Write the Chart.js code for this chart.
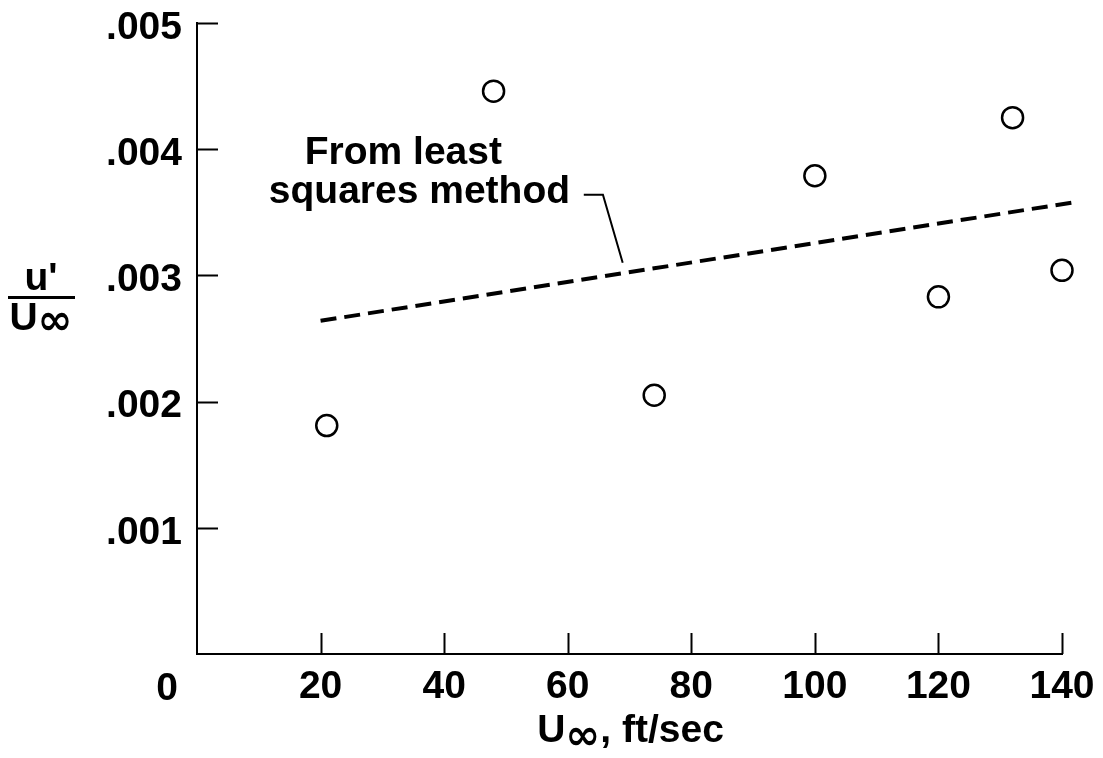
<!DOCTYPE html>
<html>
<head>
<meta charset="utf-8">
<title>Turbulence intensity vs free-stream velocity</title>
<script src="https://cdn.jsdelivr.net/npm/chart.js@4.4.1/dist/chart.umd.min.js"></script>
<style>
  html, body { margin: 0; padding: 0; background: #ffffff; }
  #wrap { width: 1103px; height: 758px; }
  canvas { display: block; }
</style>
</head>
<body>
<div id="wrap"><canvas id="chart" width="1103" height="758"></canvas></div>
<script>
// Measured free-stream velocity (ft/sec) and turbulence intensity u'/U∞
const velocity = [21, 48, 74, 100, 120, 132, 140];
const intensity = [0.00181, 0.00446, 0.00205, 0.00379, 0.00283, 0.00425, 0.00304];

// End points of the least squares line
const fitVelocity = [20, 142];
const fitIntensity = [0.00264, 0.00358];

// Tick values
const xTicks = [0, 20, 40, 60, 80, 100, 120, 140];
const yTicks = [0, 0.001, 0.002, 0.003, 0.004, 0.005];
const yTickLabels = ['', '.001', '.002', '.003', '.004', '.005'];

// Callout text and its leader (in data units)
const calloutLines = ['From least', 'squares method'];
const leaderX = [62.6, 65.7, 68.9];
const leaderY = [0.00364, 0.00364, 0.00310];

const FONT = '"Liberation Sans", Arial, Helvetica, sans-serif';
const SIZE = 39;
const TICK_LEN = 21;

const pointData = velocity.map((v, i) => ({ x: v, y: intensity[i] }));
const fitData = fitVelocity.map((v, i) => ({ x: v, y: fitIntensity[i] }));

const figureText = {
  id: 'figureText',
  afterDraw(chart) {
    const { ctx, chartArea, scales: { x, y } } = chart;
    ctx.save();
    ctx.strokeStyle = '#000';
    ctx.fillStyle = '#000';
    ctx.lineWidth = 2;
    ctx.lineCap = 'butt';

    // inward tick marks
    x.ticks.forEach(t => {
      if (t.value === 0) return;
      const px = Math.round(x.getPixelForValue(t.value)) + 0.5;
      ctx.beginPath();
      ctx.moveTo(px, chartArea.bottom);
      ctx.lineTo(px, chartArea.bottom - TICK_LEN);
      ctx.stroke();
    });
    y.ticks.forEach(t => {
      if (t.value === 0) return;
      const py = Math.round(y.getPixelForValue(t.value)) + 0.5;
      ctx.beginPath();
      ctx.moveTo(chartArea.left, py);
      ctx.lineTo(chartArea.left + TICK_LEN, py);
      ctx.stroke();
    });

    // shared origin label
    ctx.font = 'bold ' + SIZE + 'px ' + FONT;
    ctx.textAlign = 'center';
    ctx.textBaseline = 'alphabetic';
    ctx.fillText('0', x.getPixelForValue(0) - 30, chartArea.bottom + 46);

    // callout
    ctx.fillText(calloutLines[0], x.getPixelForValue(33.4), y.getPixelForValue(0.00388));
    ctx.fillText(calloutLines[1], x.getPixelForValue(36.0), y.getPixelForValue(0.00357));
    ctx.lineWidth = 2;
    ctx.beginPath();
    leaderX.forEach((lx, i) => {
      const px = x.getPixelForValue(lx), py = y.getPixelForValue(leaderY[i]);
      if (i === 0) ctx.moveTo(px, py); else ctx.lineTo(px, py);
    });
    ctx.stroke();

    // x-axis title: U∞, ft/sec
    const xt = (chartArea.left + chartArea.right) / 2 + 1;
    const xb = chartArea.bottom + 88;
    const bold = 'bold ' + SIZE + 'px ' + FONT;
    const inf = 'bold 42px "DejaVu Sans", ' + FONT;
    ctx.font = bold;
    const wU = ctx.measureText('U').width;
    const wRest = ctx.measureText(', ft/sec').width;
    ctx.font = inf;
    const wInf = ctx.measureText('\u221E').width;
    let cx = xt - (wU + wInf + wRest) / 2;
    ctx.textAlign = 'left';
    ctx.font = bold; ctx.fillText('U', cx, xb); cx += wU;
    ctx.font = inf; ctx.fillText('\u221E', cx, xb + 7); cx += wInf;
    ctx.font = bold; ctx.fillText(', ft/sec', cx, xb);

    // y-axis title: u' over U∞
    const yc = 41;
    ctx.textAlign = 'center';
    ctx.font = bold;
    ctx.fillText("u'", yc, 290);
    ctx.fillRect(8, 296, 67, 3);
    ctx.font = bold;
    const wU2 = ctx.measureText('U').width;
    ctx.font = inf;
    const wInf2 = ctx.measureText('\u221E').width;
    let cx2 = yc - (wU2 + wInf2) / 2;
    ctx.textAlign = 'left';
    ctx.font = bold; ctx.fillText('U', cx2, 330); cx2 += wU2;
    ctx.font = inf; ctx.fillText('\u221E', cx2, 334);
    ctx.restore();
  }
};

new Chart(document.getElementById('chart'), {
  type: 'scatter',
  data: {
    datasets: [
      {
        label: 'Measured',
        data: pointData,
        showLine: false,
        clip: false,
        pointStyle: 'circle',
        pointRadius: 10.5,
        pointHoverRadius: 10.5,
        pointBorderWidth: 2.5,
        pointBorderColor: '#000',
        pointBackgroundColor: '#fff'
      },
      {
        label: 'Least squares',
        data: fitData,
        showLine: true,
        clip: false,
        pointRadius: 0,
        borderColor: '#000',
        borderWidth: 4,
        borderDash: [16, 8],
        fill: false
      }
    ]
  },
  options: {
    responsive: false,
    animation: false,
    devicePixelRatio: 1,
    layout: { padding: { top: 23, right: 41, left: 0, bottom: 0 } },
    plugins: { legend: { display: false }, tooltip: { enabled: false } },
    scales: {
      x: {
        type: 'linear',
        min: 0,
        max: 140,
        afterBuildTicks(scale) { scale.ticks = xTicks.map(v => ({ value: v })); },
        afterFit(scale) {
          scale.height = 104;
          scale.paddingLeft = 0;
          scale.paddingRight = 0;
        },
        grid: { display: false, drawTicks: false },
        border: { display: true, color: '#000', width: 2 },
        ticks: {
          padding: 10,
          color: '#000',
          font: { family: FONT, size: SIZE, weight: 'bold' },
          maxRotation: 0,
          autoSkip: false,
          callback: v => (v === 0 ? '' : String(v))
        }
      },
      y: {
        type: 'linear',
        min: 0,
        max: 0.005,
        afterBuildTicks(scale) { scale.ticks = yTicks.map(v => ({ value: v })); },
        afterFit(scale) {
          scale.width = 197;
          scale.paddingTop = 0;
          scale.paddingBottom = 0;
        },
        grid: { display: false, drawTicks: false },
        border: { display: true, color: '#000', width: 2 },
        ticks: {
          padding: 15,
          labelOffset: 5,
          color: '#000',
          font: { family: FONT, size: SIZE, weight: 'bold' },
          autoSkip: false,
          callback: (v, i) => yTickLabels[yTicks.indexOf(v)] ?? ''
        }
      }
    }
  },
  plugins: [figureText]
});
</script>
</body>
</html>
